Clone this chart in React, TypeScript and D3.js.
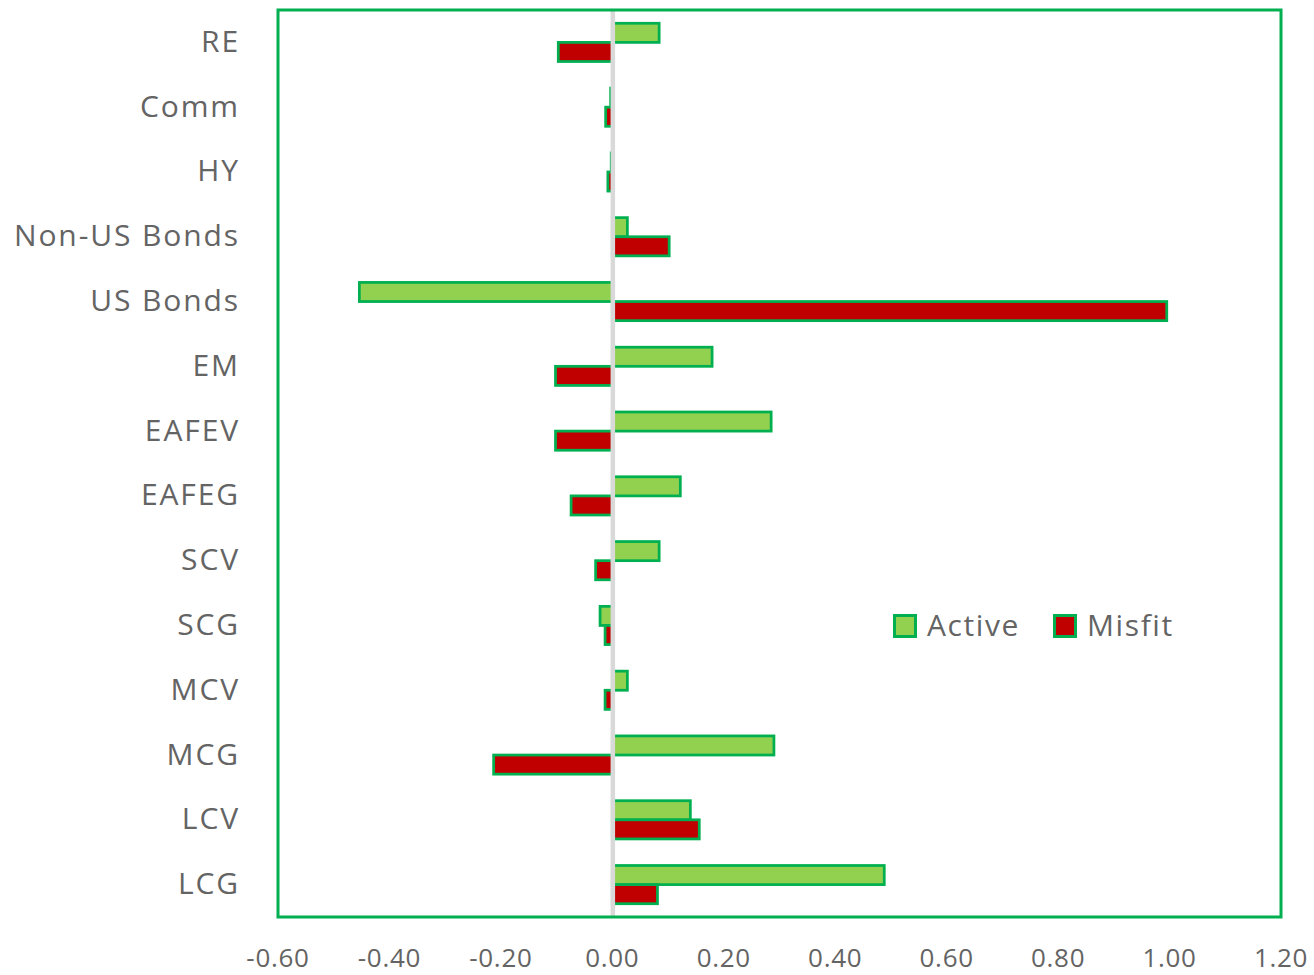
import React from "react";
import * as d3 from "d3";

const categories = ["RE", "Comm", "HY", "Non-US Bonds", "US Bonds", "EM", "EAFEV", "EAFEG", "SCV", "SCG", "MCV", "MCG", "LCV", "LCG"];
const activeValues = [0.084, -0.003, -0.002, 0.027, -0.454, 0.179, 0.285, 0.122, 0.084, -0.022, 0.027, 0.29, 0.14, 0.488];
const misfitValues = [-0.097, -0.012, -0.008, 0.102, 0.995, -0.102, -0.102, -0.074, -0.03, -0.013, -0.013, -0.213, 0.156, 0.081];
const xTicks = [-0.6, -0.4, -0.2, 0, 0.2, 0.4, 0.6, 0.8, 1.0, 1.2];
const seriesNames = ["Active", "Misfit"];

const W = 1314;
const H = 975;
const plot = { left: 278, right: 1281, top: 10, bottom: 917 };
const GREEN = "#00b050";
const ACTIVE = "#92d050";
const MISFIT = "#c00000";
const TEXT = "#646464";
const FONT = "'Open Sans', 'Liberation Sans', sans-serif";

export default function App() {
  const x = d3.scaleLinear().domain([-0.6, 1.2]).range([plot.left, plot.right]);
  const y = d3.scaleBand<string>().domain(categories).range([plot.top, plot.bottom]).paddingInner(0.41).paddingOuter(0.205);
  const bw = y.bandwidth() / 2;
  const x0 = x(0);
  const fmt = (t: number) => d3.format(".2f")(t).replace("\u2212", "-");

  const bars: React.ReactNode[] = [];
  categories.forEach((c, i) => {
    const vals = [activeValues[i], misfitValues[i]];
    vals.forEach((v, j) => {
      const xv = x(v);
      bars.push(
        <rect
          key={c + j}
          x={Math.min(x0, xv)}
          y={(y(c) as number) + j * bw}
          width={Math.abs(xv - x0)}
          height={bw}
          fill={j === 0 ? ACTIVE : MISFIT}
          stroke={GREEN}
          strokeWidth={2.75}
        />
      );
    });
  });

  return (
    <svg width={W} height={H} style={{ position: "absolute", left: 0, top: 0, background: "#fff" }}>
      <rect x={0} y={0} width={W} height={H} fill="#fff" />
      {bars}
      <line x1={x0 + 0.5} x2={x0 + 0.5} y1={plot.top} y2={plot.bottom} stroke="#d9d9d9" strokeWidth={4.5} />
      <rect x={plot.left} y={plot.top} width={plot.right - plot.left} height={plot.bottom - plot.top} fill="none" stroke={GREEN} strokeWidth={3} />
      {categories.map((c) => (
        <text
          key={c}
          x={240}
          y={(y(c) as number) + y.bandwidth() / 2 - 2}
          textAnchor="end"
          dominantBaseline="central"
          fontFamily={FONT}
          fontSize={30}
          letterSpacing={1.9}
          fill={TEXT}
        >
          {c}
        </text>
      ))}
      {xTicks.map((t) => (
        <text key={t} x={x(t)} y={957} textAnchor="middle" dominantBaseline="central" fontFamily={FONT} fontSize={26} letterSpacing={0.7} fill={TEXT}>
          {fmt(t)}
        </text>
      ))}
      {seriesNames.map((s, i) => {
        const lx = 894.5 + i * 160;
        return (
          <g key={s}>
            <rect x={lx} y={615.5} width={21} height={21} fill={i === 0 ? ACTIVE : MISFIT} stroke={GREEN} strokeWidth={3} />
            <text x={927} dx={i * 160} y={624} dominantBaseline="central" fontFamily={FONT} fontSize={30} letterSpacing={1.6} fill={TEXT}>
              {s}
            </text>
          </g>
        );
      })}
    </svg>
  );
}
